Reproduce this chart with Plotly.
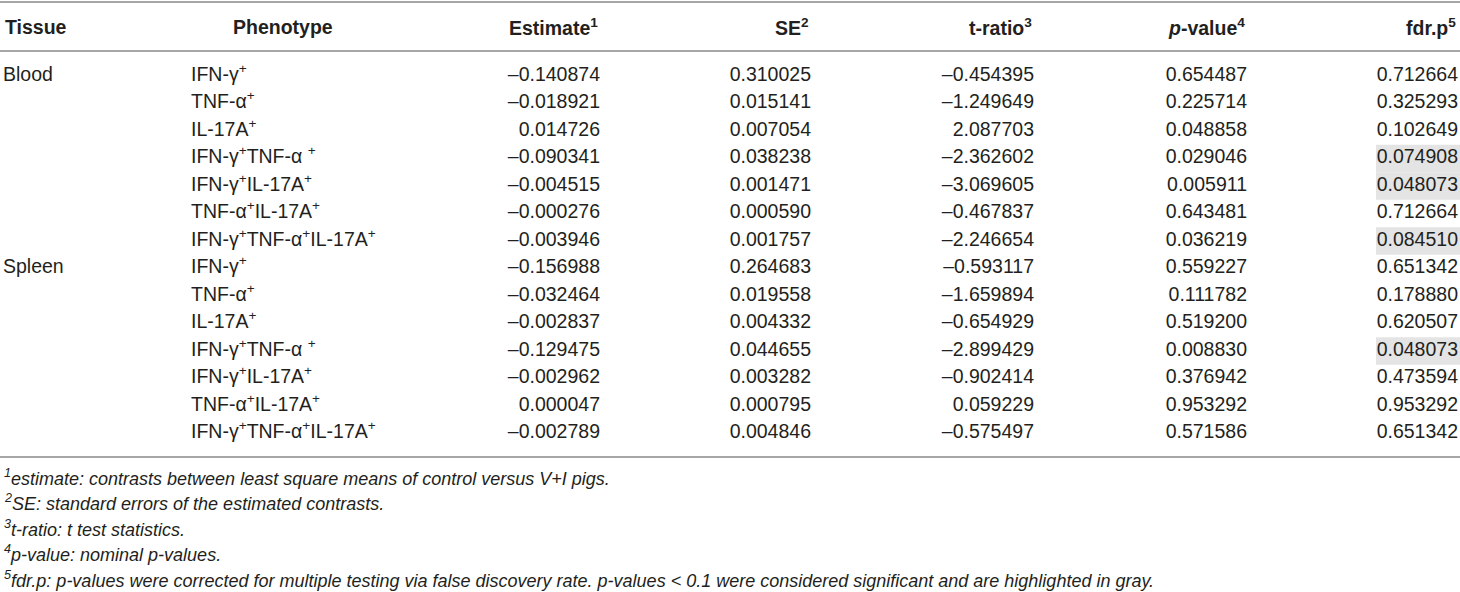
import plotly.graph_objects as go

W, H = 1460, 592

# table data
tissue = ["Blood", "", "", "", "", "", "", "Spleen", "", "", "", "", "", ""]
phenotype = [
    "IFN-γ<sup>+</sup>",
    "TNF-α<sup>+</sup>",
    "IL-17A<sup>+</sup>",
    "IFN-γ<sup>+</sup>TNF-α <sup>+</sup>",
    "IFN-γ<sup>+</sup>IL-17A<sup>+</sup>",
    "TNF-α<sup>+</sup>IL-17A<sup>+</sup>",
    "IFN-γ<sup>+</sup>TNF-α<sup>+</sup>IL-17A<sup>+</sup>",
] * 2
estimate = [-0.140874, -0.018921, 0.014726, -0.090341, -0.004515, -0.000276, -0.003946,
            -0.156988, -0.032464, -0.002837, -0.129475, -0.002962, 0.000047, -0.002789]
se = [0.310025, 0.015141, 0.007054, 0.038238, 0.001471, 0.000590, 0.001757,
      0.264683, 0.019558, 0.004332, 0.044655, 0.003282, 0.000795, 0.004846]
t_ratio = [-0.454395, -1.249649, 2.087703, -2.362602, -3.069605, -0.467837, -2.246654,
           -0.593117, -1.659894, -0.654929, -2.899429, -0.902414, 0.059229, -0.575497]
p_value = [0.654487, 0.225714, 0.048858, 0.029046, 0.005911, 0.643481, 0.036219,
           0.559227, 0.111782, 0.519200, 0.008830, 0.376942, 0.953292, 0.571586]
fdr_p = [0.712664, 0.325293, 0.102649, 0.074908, 0.048073, 0.712664, 0.084510,
         0.651342, 0.178880, 0.620507, 0.048073, 0.473594, 0.953292, 0.651342]

headers = ["Tissue", "Phenotype", "Estimate<sup>1</sup>", "SE<sup>2</sup>",
           "t-ratio<sup>3</sup>", "<i>p</i>-value<sup>4</sup>", "fdr.p<sup>5</sup>"]

footnotes = [
    "<sup>1</sup>estimate: contrasts between least square means of control versus V+I pigs.",
    "<sup>2</sup>SE: standard errors of the estimated contrasts.",
    "<sup>3</sup>t-ratio: t test statistics.",
    "<sup>4</sup>p-value: nominal p-values.",
    "<sup>5</sup>fdr.p: p-values were corrected for multiple testing via false discovery rate. "
    "p-values &lt; 0.1 were considered significant and are highlighted in gray.",
]

FONT = "Liberation Sans, Arial, Helvetica, sans-serif"
INK = "#231f20"
RULE = "#a6a6a6"
GRAY = "#e4e4e4"
FS = 19.5

# layout in pixels: x axis is the page width, y axis counts table rows
ROW0, ROW_H = 76, 27.5
col_x = [3, 191, 600, 811, 1034, 1247, 1458]
col_align = ["left", "left", "right", "right", "right", "right", "right"]


def fmt(vals):
    return [f"{v:.6f}".replace("-", "\u2013") for v in vals]


def row_of(px):
    return (px - ROW0) / ROW_H


rows = list(range(len(fdr_p)))
columns = [tissue, phenotype, fmt(estimate), fmt(se), fmt(t_ratio), fmt(p_value), fmt(fdr_p)]

fig = go.Figure()

# gray highlight for significant fdr.p
sig = [i for i, v in enumerate(fdr_p) if v < 0.1]
fig.add_trace(go.Bar(
    y=sig, x=[84] * len(sig), base=1376, orientation="h", width=1,
    marker=dict(color=GRAY, line=dict(width=0)), hoverinfo="skip",
))

for cx, al, vals in zip(col_x, col_align, columns):
    fig.add_trace(go.Scatter(
        x=[cx] * len(vals), y=rows, mode="text", text=vals,
        textposition="middle right" if al == "left" else "middle left",
        textfont=dict(family=FONT, size=FS, color=INK), hoverinfo="skip",
    ))

# header
for i, (cx, al, h) in enumerate(zip(col_x, col_align, headers)):
    if i == 1:
        cx, anchor = 283, "center"
    else:
        anchor = al
    fig.add_annotation(text=f"<b>{h}</b>", x=cx, y=row_of(27), xref="x", yref="y",
                       xanchor=anchor, yanchor="middle", showarrow=False,
                       font=dict(family=FONT, size=FS, color=INK))

# horizontal rules
for ypx in [2, 51, 457]:
    fig.add_shape(type="line", xref="paper", yref="y", x0=0, x1=1,
                  y0=row_of(ypx), y1=row_of(ypx), line=dict(color=RULE, width=2))

for i, txt in enumerate(footnotes):
    fig.add_annotation(text=f"<i>{txt}</i>", xref="x", yref="y",
                       x=2, y=row_of(477 + i * 25.5), xanchor="left", yanchor="middle",
                       showarrow=False, font=dict(family=FONT, size=18, color=INK))

fig.update_layout(
    width=W, height=H, margin=dict(l=0, r=0, t=0, b=0),
    paper_bgcolor="white", plot_bgcolor="white", showlegend=False,
    xaxis=dict(range=[0, W], visible=False, fixedrange=True),
    yaxis=dict(range=[row_of(H), row_of(0)], visible=False, fixedrange=True),
)
fig.write_html("out.html", config={"displayModeBar": False},
               post_script="document.body.style.margin='0';")
